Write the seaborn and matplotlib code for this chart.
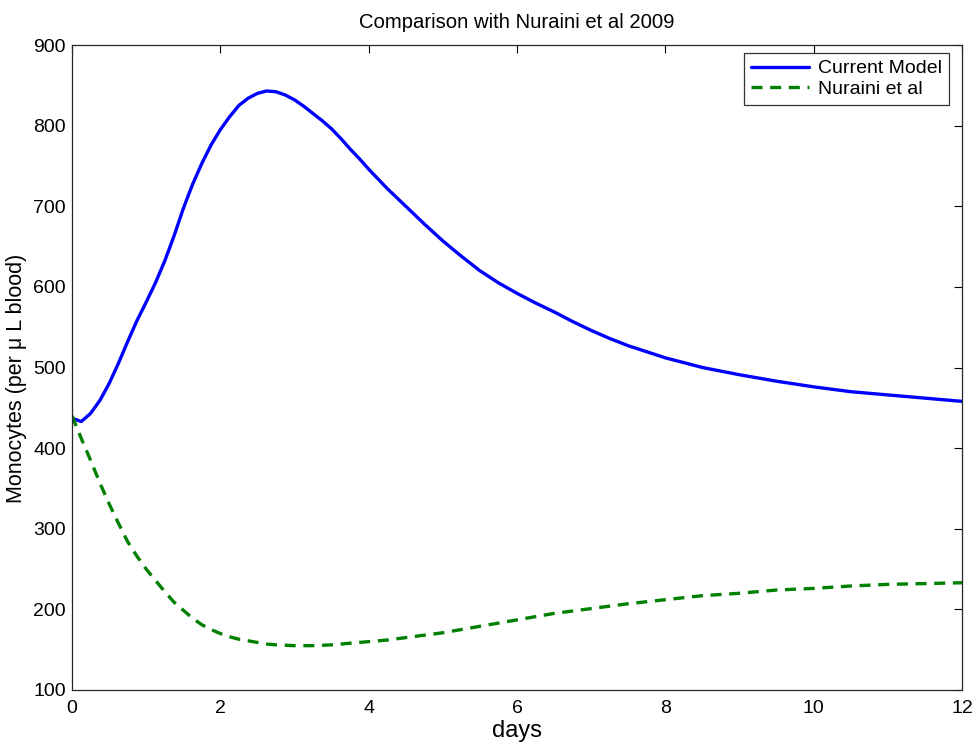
import numpy as np
import pandas as pd
import matplotlib
matplotlib.use('Agg')
import matplotlib.pyplot as plt
import seaborn as sns

# Values
days = [0, 0.125, 0.25, 0.375, 0.5, 0.625, 0.75, 0.875, 1, 1.125, 1.25, 1.375,
        1.5, 1.625, 1.75, 1.875, 2, 2.125, 2.25, 2.375, 2.5, 2.625, 2.75, 2.875,
        3, 3.125, 3.25, 3.375, 3.5, 3.625, 3.75, 3.875, 4,
        4.25, 4.5, 4.75, 5, 5.25, 5.5, 5.75, 6, 6.25, 6.5, 6.75, 7, 7.25, 7.5,
        8, 8.5, 9, 9.5, 10, 10.5, 11, 11.5, 12]
current_model = [437, 433, 443, 459, 480, 505, 532, 558, 581, 605, 632, 663,
                 697, 727, 753, 776, 795, 811, 825, 834, 840, 843, 842, 838,
                 832, 824, 815, 806, 796, 784, 771, 759, 746,
                 722, 700, 678, 657, 638, 620, 605, 592, 580, 569, 557, 546, 536, 527,
                 512, 500, 491, 483, 476, 470, 466, 462, 458]
nuraini = [440, 412, 385, 357, 331, 307, 284, 266, 250, 236, 222, 209,
           199, 189, 181, 175, 170, 166, 163, 161, 159, 157, 156, 155.5,
           155, 155, 155, 155.5, 156, 157, 158, 159, 160,
           162, 165, 168, 171, 175, 179, 183, 187, 191, 195, 198, 201, 204, 207,
           212, 217, 220, 224, 226, 229, 231, 232, 233]

x_ticks = [0, 2, 4, 6, 8, 10, 12]
y_ticks = [100, 200, 300, 400, 500, 600, 700, 800, 900]

df = pd.DataFrame({'days': days, 'current': current_model, 'nuraini': nuraini})

sns.set_style('white')
plt.rcParams['font.family'] = ['Liberation Sans', 'DejaVu Sans']
plt.rcParams['text.color'] = 'black'
plt.rcParams['axes.labelcolor'] = 'black'
plt.rcParams['xtick.color'] = 'black'
plt.rcParams['ytick.color'] = 'black'

fig = plt.figure(figsize=(9.76, 7.42), dpi=100)
ax = fig.add_axes([72 / 976, 1 - 690 / 742, 890 / 976, 645 / 742])

sns.lineplot(data=df, x='days', y='current', ax=ax, color=(0, 0, 1),
             linewidth=2.4, label='Current Model')
sns.lineplot(data=df, x='days', y='nuraini', ax=ax, color=(0, 0.5, 0),
             linewidth=2.4, label='Nuraini et al')
ax.lines[1].set_dashes((3.3, 2.3))

ax.set_xlim(0, 12)
ax.set_ylim(100, 900)
ax.set_xticks(x_ticks)
ax.set_yticks(y_ticks)
ax.tick_params(direction='in', length=6, width=0.8, top=True, right=True,
               labelsize=14, pad=4.5)
ax.tick_params(axis='x', pad=7)
for sp in ax.spines.values():
    sp.set_visible(True)
    sp.set_color('#262626')
    sp.set_linewidth(0.9)

ax.set_title('Comparison with Nuraini et al 2009', fontsize=14.6, pad=12)
ax.set_xlabel('days', fontsize=17)
ax.set_ylabel('Monocytes (per μ L blood)', fontsize=15.5)
ax.xaxis.set_label_coords(0.5, -0.046)
ax.yaxis.set_label_coords(-0.050, 0.483)

leg = ax.legend(loc='upper right', bbox_to_anchor=(949 / 976, 1 - 53 / 742),
                bbox_transform=fig.transFigure, fontsize=14, frameon=True,
                fancybox=False, edgecolor='black', handlelength=3.0,
                borderaxespad=0, borderpad=0.35, labelspacing=0.15,
                handletextpad=0.45)
leg.get_frame().set_linewidth(0.9)
leg.get_lines()[1].set_dashes((3.3, 2.3))

fig.savefig('out.png', dpi=100)
